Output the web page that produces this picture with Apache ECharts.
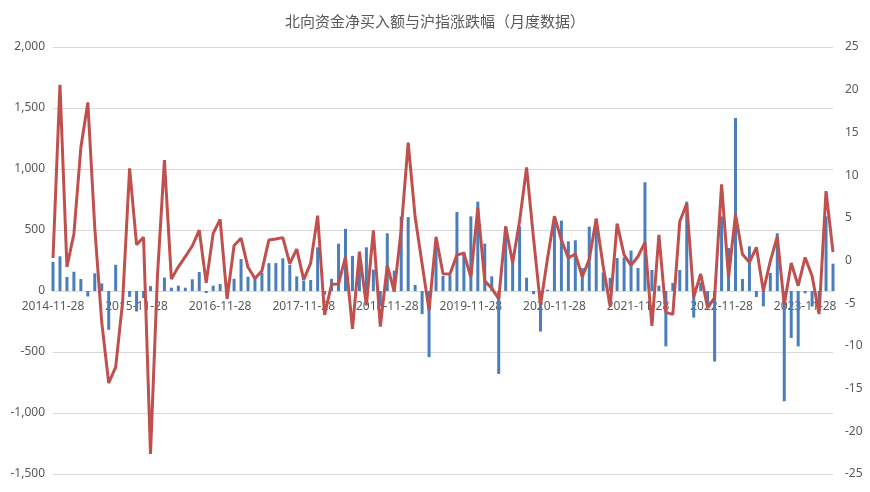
<!DOCTYPE html>
<html>
<head>
<meta charset="utf-8">
<script src="https://cdn.jsdelivr.net/npm/echarts@6/dist/echarts.min.js"></script>
<style>
html,body{margin:0;padding:0;background:#fff;}
#chart{width:870px;height:492px;}
</style>
</head>
<body>
<div id="chart"></div>
<script>
// Title
var titleText = '北向资金净买入额与沪指涨跌幅（月度数据）';

// Categories: month-end labels from 2014-11 (113 months)
var startYear = 2014, startMonth = 11, monthCount = 113;
var categories = [];
for (var k = 0; k < monthCount; k++) {
  var m = startMonth - 1 + k;
  var y = startYear + Math.floor(m / 12);
  var mm = (m % 12) + 1;
  categories.push(y + '-' + (mm < 10 ? '0' + mm : mm) + '-28');
}

// 北向资金净买入额 (left axis)
var netBuy = [
  240, 284, 115, 158, 98, -45, 145, 62, -318, 215, 0, -48,
  -168, -58, 40, 3, 110, 27, 44, 27, 96, 156, -17, 44,
  57, 70, 100, 262, 117, 102, 150, 228, 229, 268, 215, 120,
  86, 90, 358, -30, 100, 388, 510, 288, 322, 358, 175, -125,
  473, 167, 610, 606, 49, -189, -542, 360, 124, 130, 648, 322,
  612, 732, 388, 120, -680, 530, 290, 530, 109, -26, -332, 11,
  596, 577, 407, 416, 188, 528, 592, 152, 108, 270, 275, 332,
  188, 892, 172, 44, -454, 66, 172, 732, -218, 70, -115, -578,
  612, 352, 1418, 98, 366, -49, -126, 148, 473, -904, -385, -454,
  -19, -128, -130, 612, 224
];

// 沪指月度涨跌幅 % (right axis)
var shChange = [
  0.3, 20.57, -0.76, 3.11, 13.22, 18.51, 3.83, -7.25, -14.34, -12.49, -4.78, 10.80,
  1.86, 2.72, -22.65, -1.80, 11.75, -2.18, -0.74, 0.45, 1.70, 3.56, -2.62, 3.18,
  4.82, -4.50, 1.76, 2.61, -0.8, -2.11, -1.19, 2.41, 2.52, 2.68, -0.35, 1.34,
  -2.24, -0.30, 5.25, -6.36, -2.78, -2.74, 0.43, -8.01, 1.02, -5.25, 3.53, -7.75,
  -0.56, -3.64, 3.64, 13.79, 5.09, -0.40, -5.84, 2.77, -1.56, -1.58, 0.66, 0.84,
  -1.95, 6.20, -2.41, -3.23, -4.51, 3.99, -0.27, 4.64, 10.90, 2.59, -5.23, 0.20,
  5.19, 2.40, 0.29, 0.76, -1.91, 0.14, 4.89, -0.67, -5.40, 4.31, 0.65, -0.58,
  0.47, 2.13, -7.65, 3.00, -6.07, -6.31, 4.57, 6.66, -4.28, -1.57, -5.55, -4.33,
  8.91, -1.97, 5.39, 0.74, -0.21, 1.54, -3.57, -0.08, 2.78, -5.20, -0.30, -2.95,
  0.36, -1.81, -6.27, 8.13, 1.0
];

// Axis ranges
var leftMin = -1500, leftMax = 2000, leftStep = 500;
var rightMin = -25, rightMax = 25, rightStep = 5;

var textColor = '#595959';
var fontFam = '"Noto Sans", "Noto Sans CJK SC", sans-serif';

var gridTop = 47, gridBottom = 18, chartH = 492;
var plotH = chartH - gridTop - gridBottom;
// distance from bottom of grid to the zero line of the left axis
var zeroOffset = plotH * (0 - leftMin) / (leftMax - leftMin);

var chart = echarts.init(document.getElementById('chart'), null, {renderer: 'canvas'});
chart.setOption({
  animation: false,
  backgroundColor: '#ffffff',
  title: {
    text: titleText,
    left: 'center',
    top: 9,
    textStyle: {color: textColor, fontSize: 15, fontWeight: 'normal', fontFamily: '"Noto Sans CJK SC", sans-serif'}
  },
  grid: {left: 53, right: 37, top: gridTop, bottom: gridBottom, containLabel: false},
  xAxis: {
    type: 'category',
    data: categories,
    boundaryGap: false,
    offset: -zeroOffset,
    axisLine: {onZero: false, lineStyle: {color: '#d9d9d9', width: 1}},
    axisTick: {show: false},
    axisLabel: {interval: 11, color: textColor, fontSize: 12, fontFamily: fontFam, margin: 10},
    splitLine: {show: false}
  },
  yAxis: [
    {
      type: 'value',
      min: leftMin, max: leftMax, interval: leftStep,
      axisLine: {show: false},
      axisTick: {show: false},
      axisLabel: {
        color: textColor, fontSize: 12, fontFamily: fontFam, margin: 8,
        formatter: function (v) { return v.toLocaleString('en-US'); }
      },
      splitLine: {show: true, lineStyle: {color: '#d9d9d9', width: 1}}
    },
    {
      type: 'value',
      min: rightMin, max: rightMax, interval: rightStep,
      position: 'right',
      axisLine: {show: false},
      axisTick: {show: false},
      axisLabel: {color: textColor, fontSize: 12, fontFamily: fontFam, margin: 12},
      splitLine: {show: false}
    }
  ],
  series: [
    {
      name: '北向资金净买入额',
      type: 'bar',
      yAxisIndex: 0,
      data: netBuy,
      barWidth: 3,
      itemStyle: {color: '#4A7EBB'}
    },
    {
      name: '沪指涨跌幅',
      type: 'line',
      yAxisIndex: 1,
      data: shChange,
      symbol: 'none',
      smooth: false,
      lineStyle: {color: '#C0504D', width: 3},
      itemStyle: {color: '#C0504D'}
    }
  ]
});
</script>
</body>
</html>
